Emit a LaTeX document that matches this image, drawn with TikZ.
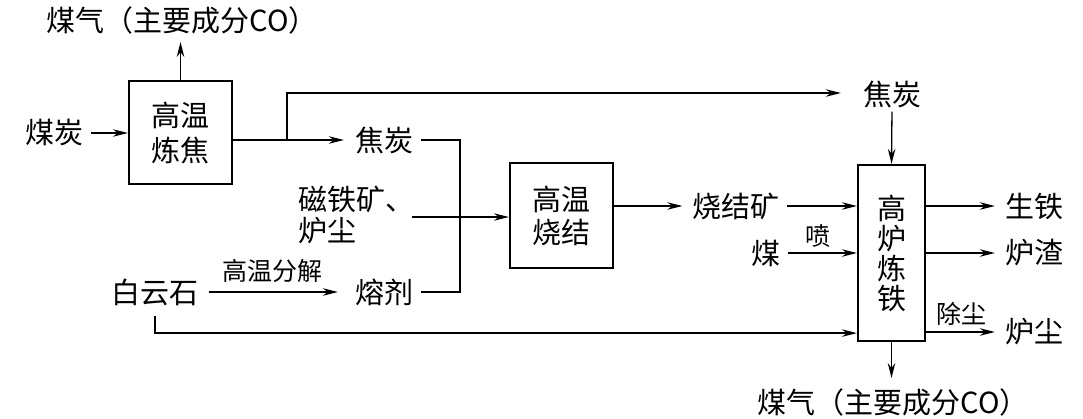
\documentclass[tikz,border=0pt]{standalone}
\usepackage{fontspec}
\setmainfont{Noto Sans CJK SC}
\usetikzlibrary{arrows.meta}
\begin{document}
\begin{tikzpicture}[x=1pt,y=-1pt,
  lbl/.style={inner sep=0pt, font=\fontsize{29}{31}\selectfont},
  small/.style={inner sep=0pt, font=\fontsize{25}{27}\selectfont},
  proc/.style={draw, line width=2.2pt, inner sep=0pt, align=center},
  conn/.style={line width=1.3pt},
  arr/.style={conn, -{Stealth[length=15pt,width=7.5pt]}}]
\useasboundingbox (0,0) rectangle (1083,418);
% process boxes
\node[proc, minimum width=103pt, minimum height=103pt, font=\fontsize{29}{35}\selectfont] (b1) at (180.5,132.5) {高温\\炼焦};
\node[proc, minimum width=103pt, minimum height=105pt, font=\fontsize{29}{33}\selectfont] (b2) at (561.5,215.5) {高温\\烧结};
\node[proc, minimum width=67pt, minimum height=176pt, font=\fontsize{29}{30}\selectfont] (b3) at (891.5,253) {高\\炉\\炼\\铁};
% labels
\node[lbl] (gas1) at (182,20) {煤气（主要成分CO）};
\node[lbl] (coal) at (54,133) {煤炭};
\node[lbl] (coke1) at (384,140) {焦炭};
\node[lbl] (coke2) at (892,94) {焦炭};
\node[lbl, align=left, anchor=west] (mag) at (298,215) {磁铁矿、\\炉尘};
\node[lbl] (flux) at (384,292) {熔剂};
\node[lbl] (dol) at (155,292) {白云石};
\node[small] (decomp) at (272,271) {高温分解};
\node[lbl] (sinter) at (736,206) {烧结矿};
\node[lbl] (coal2) at (766,253) {煤};
\node[small] (pen) at (818,236) {喷};
\node[lbl] (iron) at (1034,206) {生铁};
\node[lbl] (slag) at (1034,253) {炉渣};
\node[lbl] (dust) at (1034,332) {炉尘};
\node[small] (dedust) at (961,314) {除尘};
\node[lbl] (gas2) at (893,402) {煤气（主要成分CO）};
% helper coordinates
\coordinate (br) at (287,140);
\coordinate (jx) at (460,217);
% connectors
\draw[arr, shorten >=8pt] (b1.north) -- (b1.north |- gas1.south);
\draw[arr, shorten <=8pt] (coal.east) -- (b1.west |- coal.east);
\draw[arr, shorten >=11pt] (b1.east |- coke1) -- (coke1.west);
\draw[arr, shorten >=22pt] (br) |- (coke2.west |- 0,93);
\draw[conn, shorten <=8pt] (coke1.east) -| (jx);
\draw[conn, shorten <=8pt] (flux.east) -| (jx);
\draw[arr] (412,217) -- (b2.west |- jx);
\draw[arr, shorten <=10pt, shorten >=17pt] (dol.east) -- (flux.west);
\draw[arr, shorten <=10pt] (dol.south) |- ([yshift=9pt]b3.south west);
\draw[arr, shorten >=10pt] (b2.east |- sinter) -- (sinter.west);
\draw[arr, shorten <=7pt] (sinter.east) -- (b3.west |- sinter);
\draw[arr, shorten <=7pt] (coal2.east) -- (b3.west |- coal2);
\draw[arr, shorten <=4pt] (coke2.south) -- (b3.north);
\draw[arr, shorten >=10pt] (b3.east |- iron) -- (iron.west);
\draw[arr, shorten >=10pt] (b3.east |- slag) -- (slag.west);
\draw[arr, shorten >=10pt] (b3.east |- dust) -- (dust.west);
\draw[arr, shorten >=10pt] (b3.south) -- (b3.south |- gas2.north);
\end{tikzpicture}
\end{document}
